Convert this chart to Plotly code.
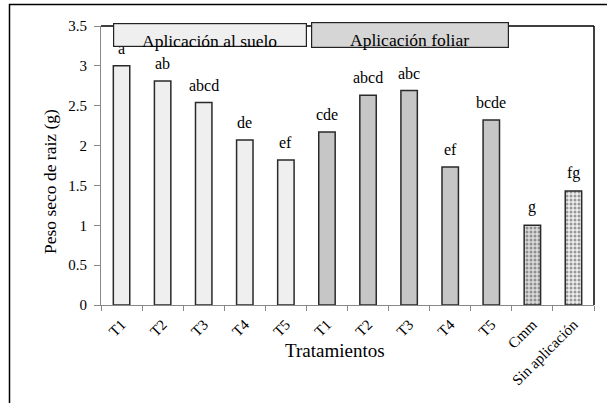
import plotly.graph_objects as go

categories = ["T1", "T2", "T3", "T4", "T5", "T1 ", "T2 ", "T3 ", "T4 ", "T5 ", "Cmm", "Sin aplicación"]
tick_labels = ["T1", "T2", "T3", "T4", "T5", "T1", "T2", "T3", "T4", "T5", "Cmm", "Sin aplicación"]
values = [3.00, 2.81, 2.54, 2.07, 1.82, 2.17, 2.63, 2.69, 1.73, 2.32, 1.00, 1.43]
letters = ["a", "ab", "abcd", "de", "ef", "cde", "abcd", "abc", "ef", "bcde", "g", "fg"]
groups = ["Aplicación al suelo", "Aplicación foliar"]

fills = ["#efefef"] * 5 + ["#c6c6c6"] * 5 + ["#dcdcdc", "#eeeeee"]
shapes_p = [""] * 10 + [".", "."]
fg = ["#000000"] * 10 + ["#8a8a8a", "#a8a8a8"]

FONT = "Liberation Serif, Times New Roman, serif"
L, R, T, B = 101, 13, 26, 98
W, H = 607, 403
pw = W - L - R
ph = H - T - B

def px2paper_x(px):
    return (px - L) / pw

def px2paper_y(py):
    return (H - B - py) / ph

fig = go.Figure()
fig.add_trace(go.Bar(
    x=categories, y=values, width=0.4,
    marker=dict(color=fills, line=dict(color="#2a2a2a", width=1.5),
                pattern=dict(shape=shapes_p, fgcolor=fg, bgcolor=fills, size=4, solidity=0.45)),
    showlegend=False, hoverinfo="x+y",
))

shapes = []
shapes.append(dict(type="rect", xref="paper", yref="paper",
                   x0=px2paper_x(9.5), x1=px2paper_x(640), y0=px2paper_y(440), y1=px2paper_y(4.5),
                   line=dict(color="#000", width=1.5), fillcolor="rgba(0,0,0,0)", layer="below"))
shapes.append(dict(type="line", xref="paper", yref="paper", x0=0, x1=1, y0=1, y1=1,
                   line=dict(color="#000", width=1.5)))
shapes.append(dict(type="line", xref="paper", yref="paper", x0=1, x1=1, y0=0, y1=1,
                   line=dict(color="#000", width=1.5)))

annotations = []
for c, v, t in zip(categories, values, letters):
    annotations.append(dict(x=c, y=v, xref="x", yref="y", text=t, showarrow=False,
                            yanchor="bottom", yshift=7,
                            font=dict(family=FONT, size=16, color="#000")))
# group header boxes (drawn after letters so they cover them)
annotations += [
    dict(x=px2paper_x(210), y=px2paper_y(34.5), xref="paper", yref="paper", text=" ",
         showarrow=False, xanchor="center", yanchor="middle", width=192, height=22,
         bgcolor="#efefef", bordercolor="#222", borderwidth=1.2, borderpad=0,
         font=dict(family=FONT, size=10)),
    dict(x=px2paper_x(410), y=px2paper_y(35.2), xref="paper", yref="paper", text=" ",
         showarrow=False, xanchor="center", yanchor="middle", width=196, height=23.5,
         bgcolor="#d6d6d6", bordercolor="#222", borderwidth=1.2, borderpad=0,
         font=dict(family=FONT, size=10)),
    dict(x=2.15, y=3.318, xref="x", yref="y", text=groups[0], showarrow=False,
         font=dict(family=FONT, size=17.5, color="#000"), xanchor="center", yanchor="middle"),
    dict(x=7.02, y=3.33, xref="x", yref="y", text=groups[1], showarrow=False,
         font=dict(family=FONT, size=17.5, color="#000"), xanchor="center", yanchor="middle"),
    dict(x=px2paper_x(50), y=px2paper_y(182), xref="paper", yref="paper", text="Peso seco de raiz (g)",
         textangle=-90, showarrow=False, xanchor="center", yanchor="middle",
         font=dict(family=FONT, size=17.5, color="#000")),
    dict(x=px2paper_x(335), y=px2paper_y(350), xref="paper", yref="paper", text="Tratamientos",
         showarrow=False, xanchor="center", yanchor="middle",
         font=dict(family=FONT, size=19, color="#000")),
]

fig.update_layout(
    width=W, height=H,
    margin=dict(l=L, r=R, t=T, b=B, pad=0),
    paper_bgcolor="white", plot_bgcolor="white",
    shapes=shapes, annotations=annotations,
    bargap=0.6,
    font=dict(family=FONT, size=14, color="#000"),
)
fig.update_xaxes(
    type="category", tickmode="array", tickvals=categories, ticktext=tick_labels,
    tickangle=-45, tickson="boundaries", ticks="outside", ticklen=5, tickcolor="#888",
    showline=True, linecolor="#888", linewidth=1, showgrid=False, ticklabelstandoff=4,
    tickfont=dict(family=FONT, size=15, color="#000"),
    range=[-0.5, 11.5],
)
fig.update_yaxes(
    range=[0, 3.5], tickvals=[0, 0.5, 1, 1.5, 2, 2.5, 3, 3.5],
    ticktext=["0", "0.5", "1", "1.5", "2", "2.5", "3", "3.5"],
    ticks="outside", ticklen=6, tickcolor="#888", showline=True, linecolor="#888",
    linewidth=1, showgrid=False, zeroline=False, ticklabelstandoff=4,
    tickfont=dict(family=FONT, size=15, color="#000"),
)
fig.write_html("out.html", config={"displayModeBar": False},
               post_script="document.body.style.margin='0';document.body.style.overflow='hidden';")
